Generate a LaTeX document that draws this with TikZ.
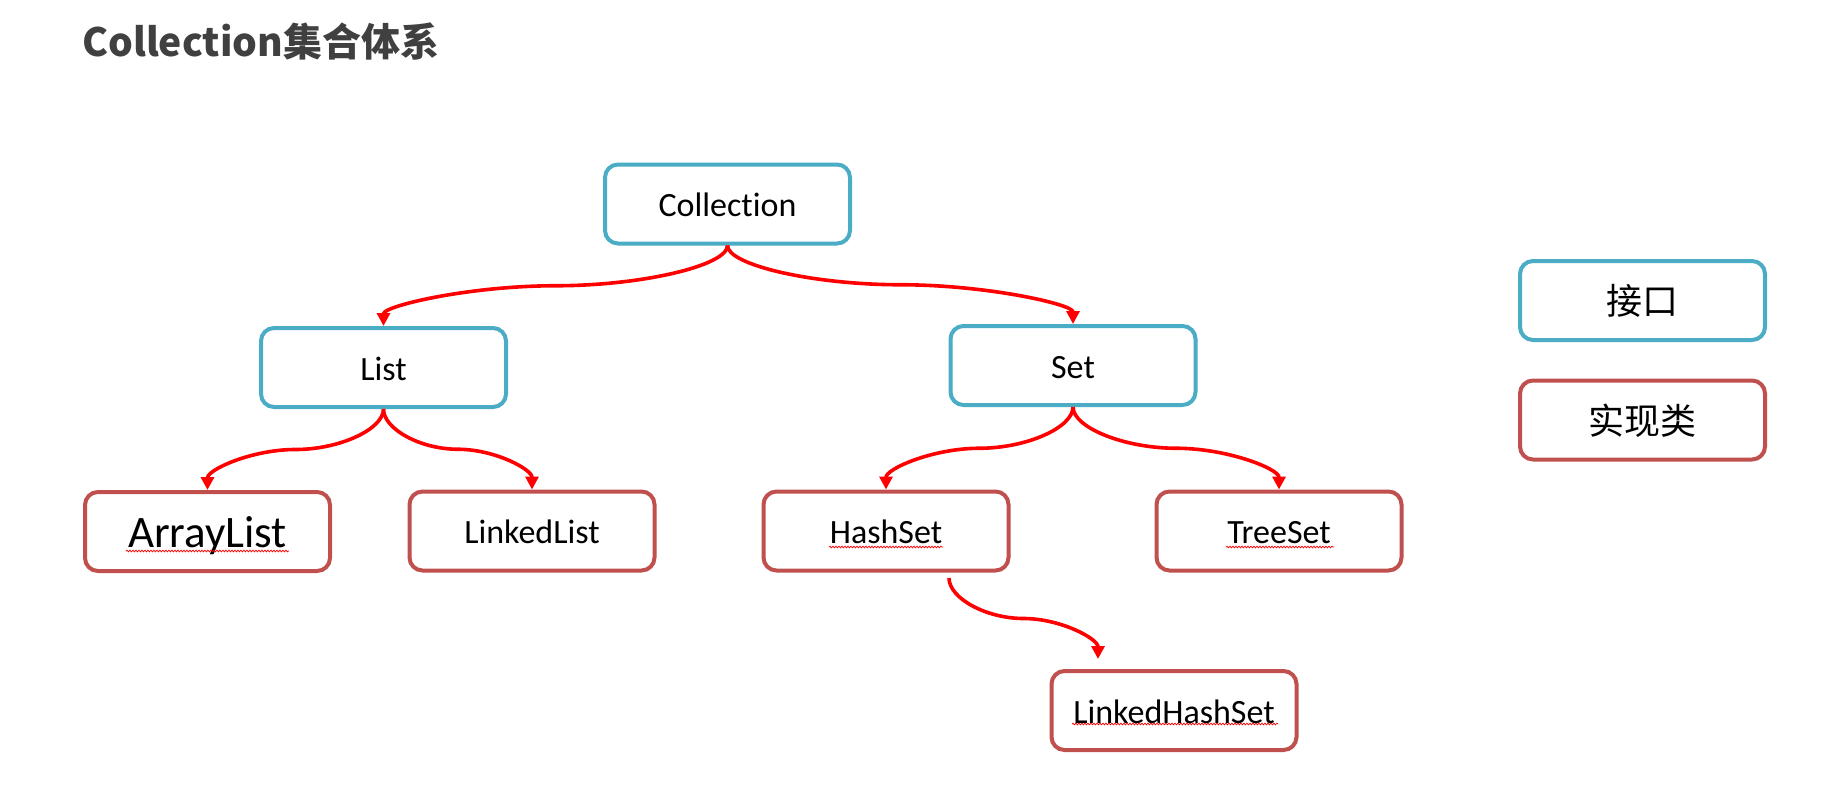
\documentclass[tikz,border=0pt]{standalone}
\usepackage{fontspec}
\setmainfont{Carlito}[Ligatures=NoCommon]
\newfontfamily\cjk{Noto Sans CJK SC}
\usetikzlibrary{arrows.meta,calc,decorations.pathmorphing}
\definecolor{ifblue}{HTML}{4BACC6}
\definecolor{implred}{HTML}{C0504D}
\definecolor{titlegray}{HTML}{404040}
\tikzset{
  box/.style={draw, line width=4pt, rounded corners=13pt, minimum width=245pt,
    minimum height=79pt, inner sep=0pt, text height=25pt, text depth=0pt,
    font=\fontsize{34}{40}\selectfont, fill=white},
  ifbox/.style={box, draw=ifblue},
  implbox/.style={box, draw=implred},
  legendtext/.style={font=\cjk\fontsize{36}{42}\selectfont, text height=28.5pt},
  arr/.style={draw=red, line width=3.6pt, -{Triangle[length=13pt,width=13pt]}},
  spell/.style={draw=red, line width=0.7pt, decorate,
    decoration={snake, amplitude=0.9pt, segment length=3pt}},
}
\newcommand\kurve[2]{\draw[arr] let \p1=(#1), \p2=(#2) in (\p1)
  .. controls (\x1,{(3*(\y1)+(\y2))/4}) and ({(3*(\x1)+(\x2))/4},{((\y1)+(\y2))/2})
  .. ({((\x1)+(\x2))/2},{((\y1)+(\y2))/2})
  .. controls ({((\x1)+3*(\x2))/4},{((\y1)+(\y2))/2}) and (\x2,{((\y1)+3*(\y2))/4})
  .. (\p2);}
\begin{document}
\begin{tikzpicture}[x=1pt,y=-1pt]
\fill[white] (0,0) rectangle (1821,808);
\useasboundingbox (0,0) rectangle (1821,808);
\node[anchor=base west, inner sep=0pt, font=\cjk\bfseries\fontsize{39}{45}\selectfont,
  text=titlegray] (title) at (82,57) {Collection集合体系};

\node[ifbox] (coll) at (727.5,204) {Collection};
\node[ifbox] (list) at (383.5,367.5) {List};
\node[ifbox] (set) at (1073,365.5) {Set};
\node[implbox, font=\fontsize{45}{50}\selectfont, text height=31pt] (al) at (207.5,531.5) {ArrayList};
\node[implbox] (ll) at (532,531) {LinkedList};
\node[implbox] (hs) at (886,531) {HashSet};
\node[implbox] (ts) at (1279,531) {TreeSet};
\node[implbox] (lhs) at (1174,710.5) {LinkedHashSet};
\node[ifbox, legendtext] (lg1) at (1642.5,300.5) {接口};
\node[implbox, legendtext] (lg2) at (1642.5,420) {实现类};

\coordinate (hsout) at (949,578);
\coordinate (lhsin) at (1098,659);

\kurve{coll.south}{list.north}
\kurve{coll.south}{set.north}
\kurve{list.south}{al.north}
\kurve{list.south}{ll.north}
\kurve{set.south}{hs.north}
\kurve{set.south}{ts.north}
\kurve{hsout}{lhsin}

\draw[spell] (126,551) -- (289,551);
\draw[spell] (829,547) -- (943,547);
\draw[spell] (1226,547) -- (1334,547);
\draw[spell] (1072,724) -- (1278,724);
\end{tikzpicture}
\end{document}
